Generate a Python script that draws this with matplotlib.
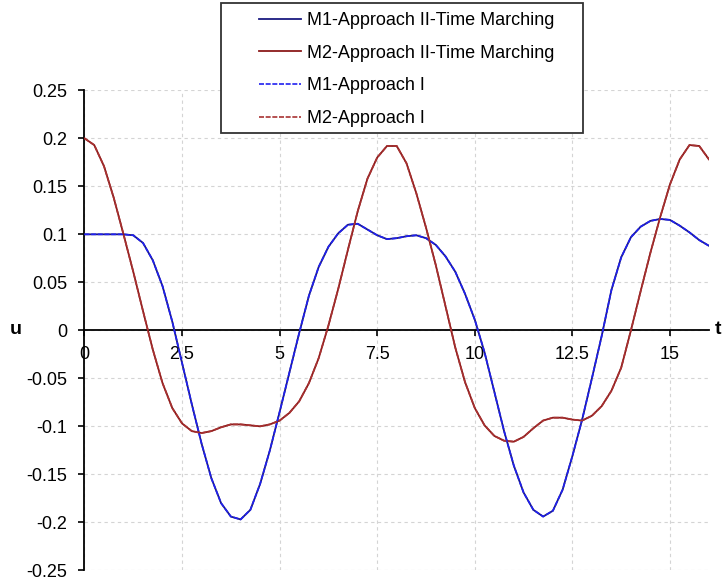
import numpy as np
import matplotlib
matplotlib.use("Agg")
import matplotlib.pyplot as plt
from matplotlib.patches import Rectangle

plt.rcParams['font.family'] = ['Liberation Sans', 'DejaVu Sans']
plt.rcParams['axes.unicode_minus'] = False

# time samples (every 0.25)
t = np.linspace(0, 16, 65)

# M1 displacement
m1 = [0.100, 0.100, 0.100, 0.100, 0.100, 0.099, 0.091, 0.073, 0.046, 0.009,
      -0.034, -0.077, -0.118, -0.154, -0.180, -0.194, -0.197, -0.187, -0.160, -0.125,
      -0.085, -0.044, -0.003, 0.036, 0.066, 0.087, 0.101, 0.110, 0.111, 0.105,
      0.099, 0.095, 0.096, 0.098, 0.099, 0.096, 0.089, 0.077, 0.061, 0.038,
      0.011, -0.023, -0.064, -0.105, -0.141, -0.169, -0.187, -0.194, -0.188, -0.166,
      -0.131, -0.093, -0.050, -0.006, 0.042, 0.076, 0.097, 0.108, 0.114, 0.116,
      0.115, 0.109, 0.102, 0.094, 0.088]

# M2 displacement
m2 = [0.200, 0.193, 0.171, 0.138, 0.100, 0.061, 0.020, -0.020, -0.055, -0.081,
      -0.097, -0.105, -0.107, -0.105, -0.101, -0.098, -0.098, -0.099, -0.100, -0.098,
      -0.094, -0.086, -0.074, -0.055, -0.029, 0.005, 0.043, 0.084, 0.124, 0.158,
      0.180, 0.192, 0.192, 0.174, 0.143, 0.107, 0.068, 0.025, -0.018, -0.054,
      -0.081, -0.099, -0.110, -0.115, -0.116, -0.111, -0.102, -0.094, -0.091, -0.091,
      -0.093, -0.094, -0.089, -0.079, -0.063, -0.039, 0.000, 0.041, 0.081, 0.118,
      0.152, 0.178, 0.193, 0.192, 0.178]

labels = ["M1-Approach II-Time Marching", "M2-Approach II-Time Marching",
          "M1-Approach I", "M2-Approach I"]

xticks = [0, 2.5, 5, 7.5, 10, 12.5, 15]
yticks = [-0.25, -0.2, -0.15, -0.1, -0.05, 0, 0.05, 0.1, 0.15, 0.2, 0.25]

fig = plt.figure(figsize=(7.22, 5.85), dpi=100)
ax = fig.add_axes([0.117, 0.0251, 0.865, 0.8205])

h1, = ax.plot(t, m1, color='#1a1a80', lw=1.3, zorder=3)
h2, = ax.plot(t, m2, color='#8B1A1A', lw=1.3, zorder=3)
h3, = ax.plot(t, m1, color='#2020F0', lw=1.2, ls=(0, (3, 1)), zorder=4)
h4, = ax.plot(t, m2, color='#A83232', lw=1.2, ls=(0, (3, 1)), zorder=4)

ax.set_xlim(0, 16)
ax.set_ylim(-0.25, 0.25)
ax.set_xticks(xticks)
ax.set_xticklabels([f'{v:g}' for v in xticks])
ax.set_yticks(yticks)
ax.set_yticklabels([f'{v:g}' for v in yticks])

ax.spines['top'].set_visible(False)
ax.spines['right'].set_visible(False)
ax.spines['bottom'].set_position(('data', 0))
ax.spines['left'].set_linewidth(1.3)
ax.spines['bottom'].set_linewidth(1.3)

ax.grid(True, color='#d4d4d4', ls=(0, (3, 3)), lw=0.8)
ax.set_axisbelow(True)
ax.tick_params(axis='y', direction='out', length=4.5, width=1.2, labelsize=13, pad=8)
ax.tick_params(axis='x', direction='out', length=4, width=1.2, labelsize=13, pad=7)

fig.text(10 / 722, 1 - 330 / 585, 'u', fontsize=14, fontweight='bold', va='center')
fig.text(715 / 722, 1 - 330 / 585, 't', fontsize=14, fontweight='bold', va='center')

box = Rectangle((221 / 722, 1 - 133 / 585), 362 / 722, 130 / 585,
                transform=fig.transFigure, facecolor='white', edgecolor='#333333',
                lw=1.3, zorder=5)
fig.add_artist(box)
leg = fig.legend([h1, h2, h3, h4], labels, loc='upper left',
                 bbox_to_anchor=(259 / 722, 1 - 12 / 585), frameon=False,
                 fontsize=13, handlelength=2.3, handletextpad=0.35,
                 labelspacing=0.87, borderpad=0, borderaxespad=0)
leg.set_zorder(6)

fig.savefig('out.png', dpi=100)
